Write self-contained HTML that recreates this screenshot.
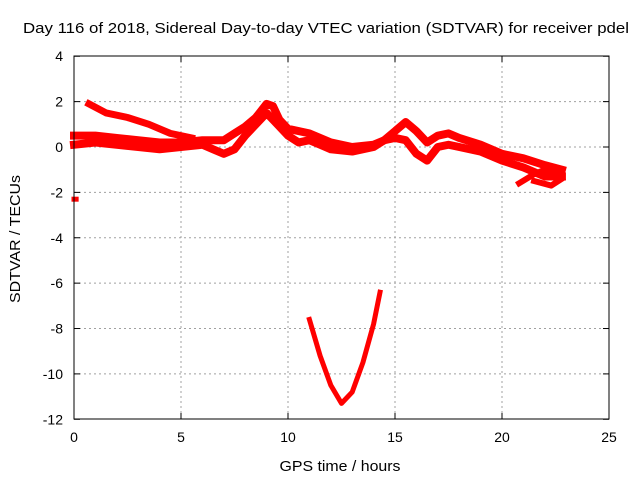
<!DOCTYPE html>
<html><head><meta charset="utf-8"><style>
body{margin:0;background:#fff}
svg{display:block;font-family:"Liberation Sans",sans-serif}
</style></head><body>
<svg id="chart" width="640" height="480">
<rect width="640" height="480" fill="#fff"/>
<text x="326" y="33" font-size="15" text-anchor="middle" textLength="606" lengthAdjust="spacingAndGlyphs">Day 116 of 2018, Sidereal Day-to-day VTEC variation (SDTVAR) for receiver pdel</text>
<text x="340" y="471" font-size="15" text-anchor="middle" textLength="121" lengthAdjust="spacingAndGlyphs">GPS time / hours</text>
<text transform="translate(20,239) rotate(-90)" font-size="15" text-anchor="middle" textLength="128" lengthAdjust="spacingAndGlyphs">SDTVAR / TECUs</text>
<g id="grid"></g><g id="series"></g>
<rect x="74" y="56" width="535" height="363" fill="none" stroke="#000" stroke-width="1"/>
</svg>
<script>
const xTicks=[0,5,10,15,20,25];
const yTicks=[4,2,0,-2,-4,-6,-8,-10,-12];
const s1x=[0,1,2,3,4,5,6,7,7.5,8,8.5,9,9.3,9.6,10,11,12,13,14,14.5,15,15.5,16,16.5,17,17.5,18,19,20,21,22,22.8];
const s1y=[0.5,0.5,0.4,0.3,0.2,0.2,0.3,0.3,0.6,0.9,1.3,1.9,1.8,1.2,0.8,0.6,0.2,0.0,0.1,0.3,0.7,1.1,0.7,0.2,0.5,0.6,0.4,0.1,-0.3,-0.5,-0.8,-1.0];
const s2x=[0,1,2,3,4,5,6,6.5,7,7.5,8,9,9.5,10,10.5,11,11.5,12,13,14,14.5,15,15.5,16,16.5,17,17.5,18,19,20,21,22,22.8];
const s2y=[0.1,0.2,0.1,0.0,-0.1,0.0,0.1,-0.1,-0.3,-0.1,0.5,1.5,1.0,0.5,0.2,0.3,0.1,-0.1,-0.2,0.0,0.3,0.4,0.3,-0.3,-0.6,0.0,0.1,0.0,-0.2,-0.6,-0.9,-1.3,-1.3];
const s3x=[0.7,1.5,2.5,3.5,4.5,5.5];
const s3y=[1.9,1.5,1.3,1.0,0.6,0.4];
const s4x=[20.8,21.5,22,22.8];
const s4y=[-1.6,-1.2,-1.0,-1.2];
const s5x=[21.5,22.3,22.8];
const s5y=[-1.5,-1.7,-1.4];
const s6x=[0,0.1];
const s6y=[-2.3,-2.3];
const s7x=[11,11.5,12,12.5,13,13.5,14,14.3];
const s7y=[-7.6,-9.2,-10.5,-11.3,-10.8,-9.5,-7.8,-6.4];
const X=v=>74+v*535/25, Y=v=>147-v*22.69;
const NS="http://www.w3.org/2000/svg";
const grid=document.getElementById('grid'), ser=document.getElementById('series');
function mk(tag,attrs,parent){const e=document.createElementNS(NS,tag);for(const k in attrs)e.setAttribute(k,attrs[k]);parent.appendChild(e);return e;}
xTicks.forEach(t=>{const x=X(t);
 if(t>0&&t<25){const g=mk('line',{x1:x,x2:x,y1:56,y2:419,stroke:'#a0a0a0','stroke-dasharray':'2,3'},grid);
 
 }
 mk('line',{x1:x,x2:x,y1:419,y2:413,stroke:'#000'},grid);
 mk('line',{x1:x,x2:x,y1:56,y2:62,stroke:'#000'},grid);
 const l=mk('text',{x:x,y:442,'font-size':14,'text-anchor':'middle'},grid);l.textContent=t;
 
 });
yTicks.forEach(t=>{const y=Y(t);
 if(t<4&&t>-12){const g=mk('line',{x1:74,x2:609,y1:y,y2:y,stroke:'#a0a0a0','stroke-dasharray':'2,3'},grid);
 
 }
 mk('line',{x1:74,x2:80,y1:y,y2:y,stroke:'#000'},grid);
 mk('line',{x1:609,x2:603,y1:y,y2:y,stroke:'#000'},grid);
 const l=mk('text',{x:63,y:y+5,'font-size':14,'text-anchor':'end'},grid);l.textContent=t;
 
 });
const all=[[s1x,s1y,8,'band-upper'],[s2x,s2y,8,'band-lower'],[s3x,s3y,7,'band-early-high'],[s4x,s4y,6,'tail-a'],[s5x,s5y,6,'tail-b'],[s6x,s6y,5,'isolated-point'],[s7x,s7y,5,'v-curve']];
all.forEach(([xs,ys,w,n])=>{
 const p=mk('polyline',{points:xs.map((v,i)=>X(v)+','+Y(ys[i])).join(' '),fill:'none',stroke:'#ff0000','stroke-width':w,'stroke-linejoin':'round','stroke-linecap':'square'},ser);
 
 
});
</script>
</body></html>
